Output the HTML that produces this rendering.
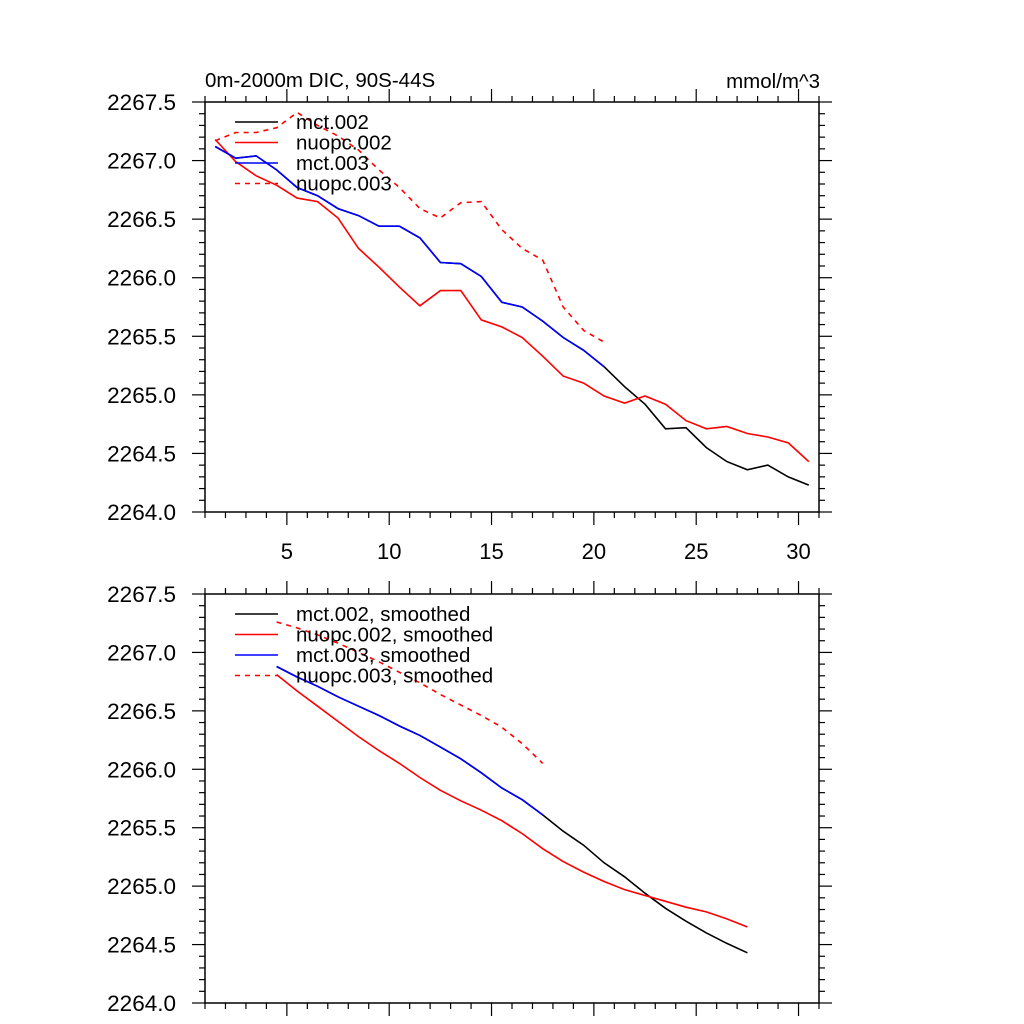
<!DOCTYPE html>
<html><head><meta charset="utf-8"><style>
html,body{margin:0;padding:0;background:#fff;}
svg{display:block;font-family:"Liberation Sans",sans-serif;}
</style></head><body>
<svg id="chart" width="1024" height="1024" viewBox="0 0 1024 1024">
<text x="205" y="87" font-size="20.5">0m-2000m DIC, 90S-44S</text>
<text x="820" y="88" font-size="20.5" text-anchor="end">mmol/m^3</text>
<g id="p1"></g>
<g id="p2"></g>
</svg>
<script>
// ---- data ----
const xTop = [1.5,2.5,3.5,4.5,5.5,6.5,7.5,8.5,9.5,10.5,11.5,12.5,13.5,14.5,15.5,16.5,17.5,18.5,19.5,20.5,21.5,22.5,23.5,24.5,25.5,26.5,27.5,28.5,29.5,30.5];
const mct002 = [2267.12,2267.02,2267.04,2266.92,2266.77,2266.70,2266.59,2266.53,2266.44,2266.44,2266.34,2266.13,2266.12,2266.01,2265.79,2265.75,2265.63,2265.49,2265.38,2265.24,2265.07,2264.92,2264.71,2264.72,2264.55,2264.43,2264.36,2264.40,2264.30,2264.23];
const nuopc002 = [2267.18,2266.99,2266.87,2266.79,2266.68,2266.65,2266.51,2266.25,2266.09,2265.92,2265.76,2265.89,2265.89,2265.64,2265.58,2265.49,2265.33,2265.16,2265.10,2264.99,2264.93,2264.99,2264.92,2264.78,2264.71,2264.73,2264.67,2264.64,2264.59,2264.43];
const mct003 = [2267.12,2267.02,2267.04,2266.92,2266.77,2266.70,2266.59,2266.53,2266.44,2266.44,2266.34,2266.13,2266.12,2266.01,2265.79,2265.75,2265.63,2265.49,2265.38,2265.24];
const nuopc003 = [2267.17,2267.24,2267.24,2267.28,2267.41,2267.30,2267.21,2267.09,2266.92,2266.77,2266.59,2266.51,2266.64,2266.65,2266.41,2266.25,2266.15,2265.75,2265.55,2265.45];
const xSm = [4.5,5.5,6.5,7.5,8.5,9.5,10.5,11.5,12.5,13.5,14.5,15.5,16.5,17.5,18.5,19.5,20.5,21.5,22.5,23.5,24.5,25.5,26.5,27.5];
const mct002s = [2266.88,2266.79,2266.71,2266.62,2266.54,2266.46,2266.37,2266.29,2266.19,2266.09,2265.97,2265.84,2265.74,2265.61,2265.47,2265.35,2265.20,2265.08,2264.94,2264.81,2264.70,2264.60,2264.51,2264.43];
const nuopc002s = [2266.81,2266.67,2266.54,2266.41,2266.28,2266.16,2266.05,2265.93,2265.82,2265.73,2265.65,2265.56,2265.45,2265.32,2265.21,2265.12,2265.04,2264.97,2264.92,2264.87,2264.82,2264.78,2264.72,2264.65];
const mct003s = [2266.88,2266.79,2266.71,2266.62,2266.54,2266.46,2266.37,2266.29,2266.19,2266.09,2265.97,2265.84,2265.74,2265.61];
const nuopc003s = [2267.26,2267.21,2267.15,2267.08,2267.00,2266.92,2266.83,2266.74,2266.64,2266.55,2266.46,2266.36,2266.22,2266.05];
const yTicks = [2264.0,2264.5,2265.0,2265.5,2266.0,2266.5,2267.0,2267.5];
const xTickLabels = [5,10,15,20,25,30];
const legendTop = ["mct.002","nuopc.002","mct.003","nuopc.003"];
const legendBot = ["mct.002, smoothed","nuopc.002, smoothed","mct.003, smoothed","nuopc.003, smoothed"];

const NS = "http://www.w3.org/2000/svg";
const L = 205, R = 819, XMIN = 1, XMAX = 31, YMIN = 2264, YMAX = 2267.5;
function mk(parent, tag, attrs){ const e = document.createElementNS(NS, tag); for (const k in attrs) e.setAttribute(k, attrs[k]); parent.appendChild(e); return e; }
function panel(g, T, B, showX, xs, series, labels){
  const sx = v => L + (v - XMIN) / (XMAX - XMIN) * (R - L);
  const sy = v => B - (v - YMIN) / (YMAX - YMIN) * (B - T);
  const frame = mk(g, "rect", {x:L, y:T, width:R-L, height:B-T, fill:"none", stroke:"#000", "stroke-width":1.5});
  
  
  const tg = mk(g, "g", {stroke:"#000", "stroke-width":1.2});
  
  
  for (let i = 0; i <= 35; i++) {
    const v = YMIN + i * 0.1, y = sy(v), len = (i % 5 === 0) ? 13 : 6;
    mk(tg, "line", {x1:L-len, y1:y, x2:L, y2:y});
    mk(tg, "line", {x1:R, y1:y, x2:R+len, y2:y});
  }
  for (let v = XMIN; v <= XMAX; v++) {
    const x = sx(v), len = (v % 5 === 0) ? 13 : 6;
    mk(tg, "line", {x1:x, y1:T-len, x2:x, y2:T});
    mk(tg, "line", {x1:x, y1:B, x2:x, y2:B+len});
  }
  yTicks.forEach(v => {
    const t = mk(g, "text", {x:176, y:sy(v)+8, "font-size":22.5, "text-anchor":"end"});
    t.textContent = v.toFixed(1);
    
    
  });
  if (showX) xTickLabels.forEach(v => {
    const t = mk(g, "text", {x:sx(v), y:B+47, "font-size":22, "text-anchor":"middle"});
    t.textContent = v;
    
    
  });
  series.forEach((s, i) => {
    const pts = s.vals.map((v, j) => sx(xs[j]).toFixed(1) + "," + sy(v).toFixed(1)).join(" ");
    const p = mk(g, "polyline", {points:pts, fill:"none", stroke:s.color, "stroke-width":1.6, "stroke-dasharray":s.dash ? "5,5" : "none"});
    
    
  });
  labels.forEach((lab, i) => {
    const s = series[i], y = T + 20 + i * 20.5;
    const ln = mk(g, "line", {x1:235, y1:y, x2:278, y2:y, stroke:s.color, "stroke-width":1.6, "stroke-dasharray":s.dash ? "5,5" : "none"});
    
    
    const t = mk(g, "text", {x:296, y:y+7, "font-size":20.5});
    t.textContent = lab;
    
    
  });
}
const topSeries = [
  {name:"mct002-line", vals:mct002, color:"#000"},
  {name:"nuopc002-line", vals:nuopc002, color:"#f00"},
  {name:"mct003-line", vals:mct003, color:"#00f"},
  {name:"nuopc003-line", vals:nuopc003, color:"#f00", dash:true}
];
const botSeries = [
  {name:"mct002-smoothed-line", vals:mct002s, color:"#000"},
  {name:"nuopc002-smoothed-line", vals:nuopc002s, color:"#f00"},
  {name:"mct003-smoothed-line", vals:mct003s, color:"#00f"},
  {name:"nuopc003-smoothed-line", vals:nuopc003s, color:"#f00", dash:true}
];
panel(document.getElementById("p1"), 102, 512, true, xTop, topSeries, legendTop);
panel(document.getElementById("p2"), 594, 1003, false, xSm, botSeries, legendBot);
</script>
</body></html>
